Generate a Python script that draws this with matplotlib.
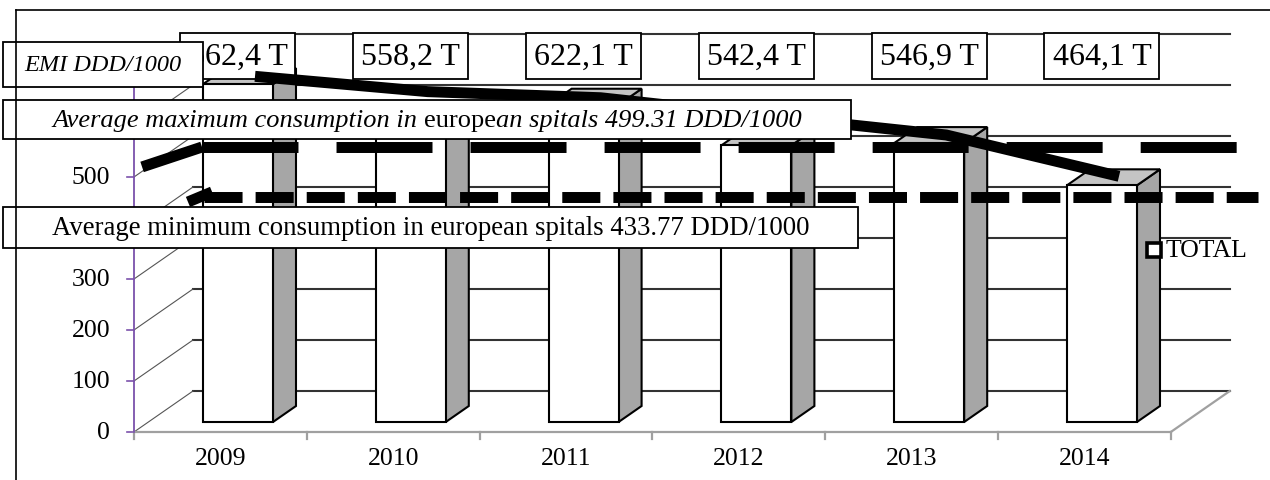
import matplotlib
matplotlib.use("Agg")
import matplotlib.pyplot as plt
from matplotlib.patches import Polygon, Rectangle
from matplotlib.lines import Line2D

# ---- data -------------------------------------------------------------
years = ["2009", "2010", "2011", "2012", "2013", "2014"]
total = [662.4, 558.2, 622.1, 542.4, 546.9, 464.1]
emi = [662, 632, 620, 583, 547, 466]
avg_max = 499.31
avg_min = 433.77
y_ticks = [0, 100, 200, 300, 400, 500, 600, 700]
y_labelled = [0, 100, 200, 300, 500]   # the others sit under the caption boxes

# ---- style / layout ---------------------------------------------------
plt.rcParams["font.family"] = ["Liberation Serif", "DejaVu Serif"]
plt.rcParams["lines.scale_dashes"] = False

W, H = 1270, 481
ORIGIN_X, CAT_PX = 134, 172.8      # front axis origin and width of one category (px)
ORIGIN_Y, VAL_PX = 433, 0.51       # front baseline (px) and px per unit value
DEPTH_X = 59 / CAT_PX              # wall depth, in category units
DEPTH_Y = 41 / VAL_PX              # wall depth, in value units
BAR_D0, BAR_D1 = 0.244, 0.634      # bar front/back depth
BAR_X0, BAR_W = 0.316, 0.405       # bar offset/width inside a category

SIDE = "#a6a6a6"
TOP = "#c4c4c4"
GRID = "#333333"
FLOOR = "#a0a0a0"
PURPLE = "#7b52ab"


def proj(x, v, d):
    """Oblique projection of (category, value, depth) onto the 2D axes."""
    return x + DEPTH_X * d, v + DEPTH_Y * d


def px(xp, yp):
    """Pixel position -> data position (layout helper for boxes/text)."""
    return (xp - ORIGIN_X) / CAT_PX, (ORIGIN_Y - yp) / VAL_PX


fig = plt.figure(figsize=(W / 100, H / 100), dpi=100)
ax = fig.add_axes([0, 0, 1, 1])
x_lo, y_hi = px(0, 0)
x_hi, y_lo = px(W, H)
ax.set_xlim(x_lo, x_hi)
ax.set_ylim(y_lo, y_hi)
ax.axis("off")
renderer = fig.canvas.get_renderer()

n = len(years)

# ---- walls, floor and axes -------------------------------------------
for v in y_ticks:
    xa, ya = proj(0, v, 1)
    xb, yb = proj(n, v, 1)
    ax.plot([xa, xb], [ya, yb], color=GRID, lw=1.5, zorder=1)
    xf, yf = proj(0, v, 0)
    ax.plot([xf, xa], [yf, ya], color="#555555", lw=0.8, zorder=1)
    ax.plot([xf - 7 / CAT_PX, xf], [yf, yf], color=PURPLE, lw=1.2, zorder=1)
for v in y_labelled:
    ax.text(px(110, 0)[0], v, str(v), ha="right", va="center",
            fontsize=18.5, zorder=1)

ax.plot([0, 0], [0, y_ticks[-1]], color=PURPLE, lw=1.3, zorder=1.2)
ax.plot([0, n], [0, 0], color=FLOOR, lw=1.6, zorder=1)
xr, yr = proj(n, 0, 1)
ax.plot([n, xr], [0, yr], color=FLOOR, lw=1.6, zorder=1)
tick_len = 7 / VAL_PX
for i in range(n + 1):
    ax.plot([i, i], [0, -tick_len], color=FLOOR, lw=1.6, zorder=1)
for i, y in enumerate(years):
    ax.text(i + 0.5, px(0, 459)[1], y, ha="center", va="center",
            fontsize=18.5, zorder=1)

# ---- 3D columns -------------------------------------------------------
for i, v in enumerate(total):
    x0 = i + BAR_X0
    x1 = x0 + BAR_W
    front = [proj(x0, 0, BAR_D0), proj(x1, 0, BAR_D0),
             proj(x1, v, BAR_D0), proj(x0, v, BAR_D0)]
    side = [proj(x1, 0, BAR_D0), proj(x1, 0, BAR_D1),
            proj(x1, v, BAR_D1), proj(x1, v, BAR_D0)]
    top = [proj(x0, v, BAR_D0), proj(x1, v, BAR_D0),
           proj(x1, v, BAR_D1), proj(x0, v, BAR_D1)]
    for poly, fc in ((side, SIDE), (top, TOP), (front, "white")):
        ax.add_patch(Polygon(poly, closed=True, facecolor=fc,
                             edgecolor="black", lw=1.5, zorder=2))

# ---- value labels at the top -----------------------------------------
lab_y = px(0, 57)[1]
box_w = 115 / CAT_PX
box_h = 46 / VAL_PX
for i, v in enumerate(total):
    cx = proj(i + BAR_X0 + BAR_W / 2, 0, BAR_D0)[0]
    ax.add_patch(Rectangle((cx - box_w / 2, lab_y - box_h / 2), box_w, box_h,
                           facecolor="white", edgecolor="black", lw=1.3,
                           zorder=3))
    txt = f"{v:.1f}".replace(".", ",") + " T"
    ax.text(cx, lab_y, txt, ha="center", va="center", fontsize=23, zorder=3.1)

# ---- EMI line ---------------------------------------------------------
emi_pts = [proj(i + 0.55, v, 0.44) for i, v in enumerate(emi)]
ax.plot([p[0] for p in emi_pts], [p[1] for p in emi_pts], color="black",
        lw=7.9, solid_capstyle="butt", solid_joinstyle="miter", zorder=4)

# ---- average max / min reference lines -------------------------------
d_max = 0.74
a = proj(-0.04, avg_max, 0.254)
b = proj(0.141, avg_max, d_max)
c = proj(6.153, avg_max, d_max)
ax.plot([a[0], b[0]], [a[1], b[1]], color="black", lw=7.9,
        solid_capstyle="butt", zorder=4)
ax.plot([b[0], c[0]], [b[1], c[1]], color="black", lw=7.9,
        ls=(0, (69.1, 27.4)), dash_capstyle="butt", zorder=4)

d_min = 0.337
a = proj(0.239, avg_min, 0.215)
b = proj(0.295, avg_min, 0.46)
ax.plot([a[0], b[0]], [a[1], b[1]], color="black", lw=7.9,
        solid_capstyle="butt", zorder=4)
b = proj(0.29, avg_min, d_min)
c = proj(6.39, avg_min, d_min)
ax.plot([b[0], c[0]], [b[1], c[1]], color="black", lw=7.9,
        ls=(0, (27.4, 9.4)), dash_capstyle="butt", zorder=4)


# ---- caption boxes ----------------------------------------------------
def text_width(s, **kw):
    t = ax.text(0, 0, s, **kw)
    w = t.get_window_extent(renderer).width
    t.remove()
    return w


def caption(x0p, y0p, x1p, y1p, pieces, fontsize):
    """White box with a line of text made of (string, style) runs."""
    (xa, ya), (xb, yb) = px(x0p, y1p), px(x1p, y0p)
    ax.add_patch(Rectangle((xa, ya), xb - xa, yb - ya, facecolor="white",
                           edgecolor="black", lw=1.3, zorder=5))
    widths = []
    for s, style in pieces:
        if s == " ":
            w = (text_width("x x", fontsize=fontsize, style=style)
                 - text_width("xx", fontsize=fontsize, style=style))
        else:
            w = text_width(s, fontsize=fontsize, style=style)
        widths.append(w)
    xp = (x0p + x1p) / 2 - sum(widths) / 2
    yc = (ya + yb) / 2
    for (s, style), w in zip(pieces, widths):
        if s != " ":
            ax.text(px(xp, 0)[0], yc, s, ha="left", va="center",
                    fontsize=fontsize, style=style, zorder=5.1)
        xp += w


caption(3, 43, 203, 88, [("EMI DDD/1000", "italic")], 17.5)
caption(3, 101, 851, 140,
        [("Average maximum consumption in", "italic"), (" ", "italic"),
         ("europe", "normal"),
         (f"an spitals {avg_max:.2f} DDD/1000", "italic")], 19)
caption(3, 208, 858, 249,
        [(f"Average minimum consumption in european spitals "
          f"{avg_min:.2f} DDD/1000", "normal")], 19.3)

# ---- legend -----------------------------------------------------------
lx, ly = px(1154, 251)
ax.plot([lx], [ly], marker="s", ms=10, mfc="white", mec="black", mew=2.6,
        zorder=5)
ax.text(px(1166, 0)[0], ly, "TOTAL", ha="left", va="center", fontsize=18.5,
        zorder=5)

# ---- outer frame ------------------------------------------------------
fig.add_artist(Line2D([16 / W, 16 / W], [0, 1 - 11 / H], color="black",
                      lw=1.2, transform=fig.transFigure))
fig.add_artist(Line2D([16 / W, 1], [1 - 11 / H, 1 - 11 / H], color="black",
                      lw=1.2, transform=fig.transFigure))

fig.savefig("out.png", dpi=100)
